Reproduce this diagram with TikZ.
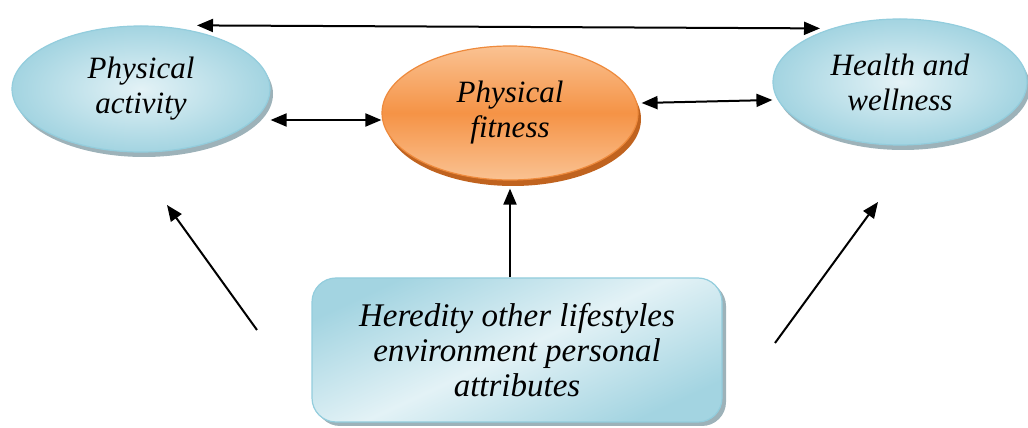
\documentclass[tikz,border=0pt]{standalone}
\usepackage{fontspec}
\setmainfont{Liberation Serif}
\newfontfamily\tnr{Liberation Serif}
\usetikzlibrary{arrows.meta,shapes.geometric,shadows}
\definecolor{bluebd}{HTML}{93CDDD}
\definecolor{bluein}{HTML}{E3F2F6}
\definecolor{blueout}{HTML}{A3D4E1}
\definecolor{blueshd}{HTML}{9DB2B9}
\definecolor{orlight}{HTML}{FAC292}
\definecolor{ormid}{HTML}{F59346}
\definecolor{orbd}{HTML}{EE8A3C}
\definecolor{orshd}{HTML}{C0631F}
\tikzset{
  txt/.style={font=\tnr\itshape\fontsize{31}{35}\selectfont, align=center, text=black},
  blueell/.style={ellipse, txt, draw=bluebd, line width=1.2pt, inner color=bluein, outer color=blueout,
    minimum width=#1, minimum height=126pt, inner sep=0pt,
    drop shadow={shadow xshift=3pt, shadow yshift=-5pt, fill=blueshd, opacity=1}},
  orell/.style={ellipse, txt, draw=orbd, line width=1.2pt, top color=orlight, bottom color=orlight, middle color=ormid,
    minimum width=256pt, minimum height=134pt, inner sep=0pt,
    drop shadow={shadow xshift=3pt, shadow yshift=-6pt, fill=orshd, opacity=1}},
  bluebox/.style={rectangle, rounded corners=24pt, txt, font=\tnr\itshape\fontsize{33}{35}\selectfont,
    draw=bluebd, line width=1.2pt,
    top color=blueout, bottom color=blueout, middle color=bluein, shading angle=25,
    minimum width=410pt, minimum height=144pt, inner sep=0pt,
    drop shadow={shadow xshift=4pt, shadow yshift=-4pt, fill=blueshd, opacity=1}},
  arr/.style={line width=2pt, -{Triangle[length=16pt,width=13pt]}},
  darr/.style={line width=2pt, {Triangle[length=16pt,width=13pt]}-{Triangle[length=16pt,width=13pt]}}
}
\begin{document}
\begin{tikzpicture}[x=1pt,y=1pt]
\useasboundingbox (0,0) rectangle (1028,428);
\node[blueell=258pt] (pa) at (141,339) {Physical\\activity};
\node[orell] (pf) at (510,315) {Physical\\fitness};
\node[blueell=254pt] (hw) at (900,346) {Health and\\wellness};
\node[bluebox] (hd) at (517,78) {Heredity other lifestyles\\environment personal\\attributes};
\coordinate (l1) at (257,98);
\coordinate (l2) at (167,223);
\coordinate (r1) at (775,85);
\coordinate (r2) at (878,226);
\draw[darr] ([xshift=56pt,yshift=0pt]pa.north) -- ([xshift=-80pt,yshift=-10pt]hw.north);
\draw[darr] ([yshift=-31pt]pa.east) -- ([yshift=-7pt]pf.west);
\draw[darr] ([xshift=3pt,yshift=10pt]pf.east) -- ([yshift=-18pt]hw.west);
\draw[arr] ([xshift=-7pt]hd.north) -- ([yshift=-8pt]pf.south);
\draw[arr] (l1) -- (l2);
\draw[arr] (r1) -- (r2);
\end{tikzpicture}
\end{document}
